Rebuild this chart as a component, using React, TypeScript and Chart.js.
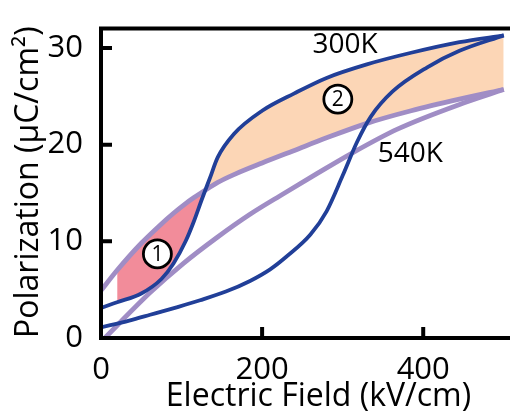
import React, { useEffect, useRef } from 'react';
import { Chart, registerables } from 'chart.js';

Chart.register(...registerables);

// ---- data ----
// Descending-field (upper) branches share one field grid
const fieldUpper = [0, 20, 50, 75, 90, 105, 115, 125, 135, 145, 165, 200, 240, 280, 330, 385, 445, 500];
const p300Upper = [3.1, 3.7, 4.6, 6.1, 7.7, 10.0, 12.0, 14.3, 16.5, 18.7, 21.1, 23.5, 25.3, 26.9, 28.3, 29.5, 30.6, 31.3];
const p540Upper = [4.9, 7.0, 9.8, 11.8, 12.9, 13.9, 14.5, 15.05, 15.6, 16.1, 16.9, 18.1, 19.4, 20.7, 22.2, 23.5, 24.7, 25.7];
// Ascending-field (lower) branches
const field300Lower = [0, 35, 61, 95, 123, 155, 185, 210, 230, 260, 280, 300, 318, 335, 362, 405, 445, 500];
const p300Lower = [1.1, 1.8, 2.4, 3.2, 3.9, 4.8, 5.9, 7.1, 8.4, 10.7, 13.1, 16.8, 20.3, 22.9, 25.5, 28.0, 29.7, 31.3];
const field540Lower = [0, 61, 102, 144, 185, 226, 268, 309, 368, 450, 500];
const p540Lower = [-0.4, 4.7, 7.7, 10.4, 12.8, 14.9, 17.0, 19.0, 21.6, 24.3, 25.7];
// shaded regions start at this field
const shadeStartField = 20;

const xTicks = [0, 200, 400];
const yTicks = [0, 10, 20, 30];

const seriesLabels = [
  { text: '300K', x: 303, y: 30.3 },
  { text: '540K', x: 384, y: 19.0 },
];
const regionMarks = [
  { text: '1', x: 70, y: 8.7 },
  { text: '2', x: 294, y: 24.7 },
];

// ---- styles ----
const BLUE = '#213f98';
const PURPLE = '#a08dc5';
const PINK = '#f28c9a';
const PEACH = '#fcd6b6';
const FONT = '"Open Sans", Lato, sans-serif';

const pts = (xs: number[], ys: number[]) => xs.map((x, i) => ({ x, y: ys[i] }));
const ptsFrom = (xs: number[], ys: number[], start: number) =>
  xs.map((x, i) => ({ x, y: ys[i] })).filter((p) => p.x >= start);

const framePlugin = {
  id: 'frame',
  afterDatasetsDraw(chart: any) {
    const { ctx, chartArea, scales } = chart;
    const { left, right, top, bottom } = chartArea;
    const xs = scales.x;
    const ys = scales.y;
    ctx.save();
    ctx.strokeStyle = '#000';
    ctx.lineWidth = 4;
    ctx.lineCap = 'butt';
    ctx.beginPath();
    ctx.moveTo(right, top);
    ctx.lineTo(left, top);
    ctx.lineTo(left, bottom);
    ctx.lineTo(right, bottom);
    ctx.stroke();
    ctx.beginPath();
    xTicks.forEach((v) => {
      const px = xs.getPixelForValue(v);
      ctx.moveTo(px, bottom);
      ctx.lineTo(px, bottom - 11);
    });
    yTicks.forEach((v) => {
      const py = ys.getPixelForValue(v);
      ctx.moveTo(left, py);
      ctx.lineTo(left + 11, py);
    });
    ctx.stroke();

    // series labels
    ctx.fillStyle = '#000';
    ctx.textAlign = 'center';
    ctx.textBaseline = 'middle';
    ctx.font = `28px ${FONT}`;
    seriesLabels.forEach((l) => {
      ctx.fillText(l.text, xs.getPixelForValue(l.x), ys.getPixelForValue(l.y));
    });
    // circled region numbers
    regionMarks.forEach((m) => {
      const cx = xs.getPixelForValue(m.x);
      const cy = ys.getPixelForValue(m.y);
      ctx.beginPath();
      ctx.arc(cx, cy, 14, 0, Math.PI * 2);
      ctx.fillStyle = '#fff';
      ctx.fill();
      ctx.lineWidth = 2.8;
      ctx.strokeStyle = '#000';
      ctx.stroke();
      ctx.fillStyle = '#000';
      ctx.font = `21px ${FONT}`;
      ctx.fillText(m.text, cx, cy + 1);
    });
    ctx.restore();
  },
};

export default function App() {
  const ref = useRef<HTMLCanvasElement | null>(null);
  useEffect(() => {
    const canvas = ref.current;
    if (!canvas) return;
    const tickFont = { family: FONT, size: 31 };
    const titleFont = { family: FONT, size: 32 };
    const chart = new Chart(canvas, {
      type: 'line',
      data: {
        datasets: [
          {
            data: pts(fieldUpper, p300Upper),
            borderColor: BLUE,
            borderWidth: 3.8,
            fill: false,
            order: 0,
          },
          {
            data: pts(field300Lower, p300Lower),
            borderColor: BLUE,
            borderWidth: 3.8,
            fill: false,
            order: 0,
          },
          {
            data: pts(fieldUpper, p540Upper),
            borderColor: PURPLE,
            borderWidth: 4.8,
            fill: false,
            order: 1,
          },
          {
            data: pts(field540Lower, p540Lower),
            borderColor: PURPLE,
            borderWidth: 4.8,
            fill: false,
            order: 1,
          },
          {
            data: ptsFrom(fieldUpper, p300Upper, shadeStartField),
            borderColor: 'rgba(0,0,0,0)',
            borderWidth: 0,
            fill: { target: 5, above: PEACH, below: PINK },
            order: 2,
          },
          {
            data: ptsFrom(fieldUpper, p540Upper, shadeStartField),
            borderColor: 'rgba(0,0,0,0)',
            borderWidth: 0,
            fill: false,
            order: 2,
          },
        ] as any,
      },
      options: {
        animation: false,
        responsive: false,
        devicePixelRatio: 1,
        events: [],
        elements: {
          point: { radius: 0, hoverRadius: 0 },
          line: { cubicInterpolationMode: 'monotone' },
        },
        layout: { padding: { top: 26, right: 9, left: 0, bottom: 0 } },
        plugins: {
          legend: { display: false },
          tooltip: { enabled: false },
          filler: { drawTime: 'beforeDatasetsDraw' },
        } as any,
        scales: {
          x: {
            type: 'linear',
            min: 0,
            max: 540,
            afterBuildTicks: (s: any) => {
              s.ticks = xTicks.map((v) => ({ value: v }));
            },
            afterFit: (s: any) => {
              s.height = 82;
            },
            grid: { display: false },
            border: { display: false },
            ticks: { font: tickFont, color: '#000', padding: 6, maxRotation: 0, autoSkip: false },
            title: {
              display: true,
              text: 'Electric Field (kV/cm)',
              font: titleFont,
              color: '#000',
              padding: { top: 0, bottom: 4 },
            },
          },
          y: {
            type: 'linear',
            min: 0,
            max: 32,
            afterBuildTicks: (s: any) => {
              s.ticks = yTicks.map((v) => ({ value: v }));
            },
            afterFit: (s: any) => {
              s.width = 101;
            },
            grid: { display: false },
            border: { display: false },
            ticks: { font: tickFont, color: '#000', padding: 10, autoSkip: false },
            title: {
              display: true,
              align: 'start',
              text: 'Polarization (μC/cm²)',
              font: titleFont,
              color: '#000',
              padding: { top: 10, bottom: 0 },
            },
          },
        },
      },
      plugins: [framePlugin],
    });
    return () => chart.destroy();
  }, []);

  return (
    <div
      style={{
        position: 'fixed',
        left: 0,
        top: 0,
        width: 510,
        height: 411,
        overflow: 'hidden',
        background: '#fff',
      }}
    >
      <canvas ref={ref} width={545} height={420} style={{ display: 'block' }} />
    </div>
  );
}
